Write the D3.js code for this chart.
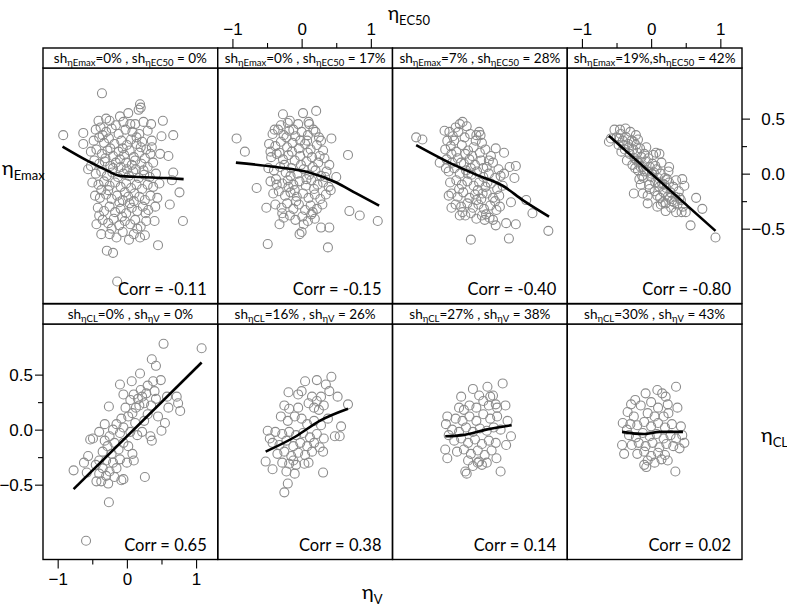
<!DOCTYPE html>
<html><head><meta charset="utf-8">
<script src="https://cdn.jsdelivr.net/npm/d3@7"></script>
<style>body{margin:0;background:#fff}svg{display:block}</style>
</head><body>
<svg id="chart" width="787" height="608"></svg>
<script>
// ---------- data ----------
const xMajorTicks = [-1, 0, 1];
const xMinorTicks = [-0.5, 0.5];
const yMajorTicks = [-0.5, 0, 0.5];
const yMinorTicks = [-0.25, 0.25];

const shEmax = ["0%", "0%", "7%", "19%"];
const shEC50 = ["0%", "17%", "28%", "42%"];
const shSep  = [" , ", " , ", " , ", ","];
const shCL   = ["0%", "16%", "27%", "30%"];
const shV    = ["0%", "26%", "38%", "43%"];
const corrTop    = ["-0.11", "-0.15", "-0.40", "-0.80"];
const corrBottom = ["0.65", "0.38", "0.14", "0.02"];

// top row: x = eta EC50, y = eta Emax
const ptsT1 = [[-0.36,0.73],[0.19,0.63],[0.20,0.60],[0.17,0.58],[-0.92,0.35],[-0.63,0.37],[0.52,0.48],[0.67,0.35],[0.50,0.34],[-0.41,0.48],[-0.25,0.48],[-0.05,0.47],[0.12,0.45],[0.24,0.47],[-0.63,0.27],[0.48,0.18],[0.60,0.16],[-0.56,0.04],[0.67,0.01],[0.65,-0.06],[0.76,-0.17],[0.62,-0.28],[0.81,-0.43],[-0.37,-0.15],[-0.44,-0.46],[-0.37,-0.55],[-0.29,-0.70],[-0.20,-0.72],[0.19,-0.58],[0.26,-0.56],[0.45,-0.65],[0.40,-0.43],[0.28,-0.43],[-0.14,-0.98],
[-0.45,0.40],[-0.38,0.42],[-0.30,0.38],[-0.22,0.41],[-0.12,0.36],[-0.02,0.40],[0.08,0.38],[0.18,0.36],[0.30,0.39],[0.36,0.30],
[-0.48,0.30],[-0.40,0.33],[-0.33,0.28],[-0.26,0.32],[-0.18,0.27],[-0.08,0.30],[0.00,0.26],[0.06,0.31],[0.14,0.27],[0.22,0.29],[0.28,0.22],
[-0.52,0.20],[-0.44,0.22],[-0.36,0.18],[-0.28,0.21],[-0.20,0.16],[-0.12,0.20],[-0.04,0.17],[0.04,0.21],[0.10,0.15],[0.18,0.19],[0.26,0.14],[0.34,0.18],
[-0.47,0.12],[-0.40,0.09],[-0.32,0.11],[-0.24,0.07],[-0.16,0.10],[-0.09,0.06],[-0.01,0.10],[0.07,0.08],[0.13,0.04],[0.21,0.09],[0.30,0.06],[0.38,0.10],
[-0.45,0.00],[-0.37,0.02],[-0.29,-0.02],[-0.21,0.01],[-0.13,-0.03],[-0.05,0.00],[0.03,-0.02],[0.09,0.02],[0.17,-0.04],[0.25,-0.01],[0.33,-0.03],[0.42,0.00],
[-0.50,-0.08],[-0.41,-0.10],[-0.33,-0.07],[-0.25,-0.11],[-0.17,-0.08],[-0.09,-0.12],[-0.01,-0.09],[0.06,-0.13],[0.14,-0.10],[0.22,-0.14],[0.30,-0.10],[0.38,-0.12],[0.47,-0.09],
[-0.46,-0.20],[-0.39,-0.22],[-0.30,-0.19],[-0.22,-0.23],[-0.14,-0.20],[-0.06,-0.24],[0.02,-0.21],[0.10,-0.25],[0.18,-0.21],[0.26,-0.24],[0.34,-0.20],[0.44,-0.22],
[-0.42,-0.31],[-0.33,-0.34],[-0.25,-0.30],[-0.17,-0.35],[-0.09,-0.32],[-0.01,-0.36],[0.07,-0.31],[0.15,-0.34],[0.23,-0.30],[0.31,-0.33],
[-0.35,-0.42],[-0.27,-0.45],[-0.19,-0.41],[-0.11,-0.47],[-0.03,-0.43],[0.05,-0.46],[0.12,-0.42],[0.20,-0.48],
[-0.25,-0.55],[-0.15,-0.58],[-0.06,-0.53],[0.03,-0.60],[0.10,-0.55],
[-0.10,0.52],[0.02,0.55],[-0.30,0.50],[0.35,0.45],
[-0.20,0.05],[-0.10,0.13],[0.00,0.04],[0.12,0.12],[-0.27,-0.15],[-0.03,-0.17],[0.11,-0.18],[-0.35,0.35],[0.14,0.33],[-0.16,0.44],[0.27,-0.36],[-0.07,-0.39],[0.36,0.24],[-0.40,-0.38],[0.41,-0.30],[-0.52,0.07],[0.05,0.45],[-0.22,-0.50],[0.15,-0.50],[-0.31,0.14],[0.24,0.03],[-0.11,-0.26],[0.04,-0.27],[0.20,0.24],[-0.24,0.23],[-0.06,0.23]];
const ptsT2 = [[-0.94,0.32],[-0.82,0.20],[0.21,0.57],[0.02,0.55],[-0.27,0.54],[-0.17,0.48],[-0.39,0.40],[0.11,0.45],[0.43,0.32],[0.67,0.17],[-0.65,-0.13],[-0.51,-0.31],[-0.32,-0.46],[-0.03,-0.55],[0.00,-0.53],[-0.49,-0.64],[0.38,-0.67],[0.28,-0.49],[0.40,-0.49],[0.69,-0.34],[0.84,-0.38],[1.10,-0.43],[0.16,-0.35],[0.50,-0.03],
[-0.42,0.36],[-0.34,0.40],[-0.26,0.35],[-0.18,0.39],[-0.09,0.34],[0.00,0.38],[0.09,0.35],[0.17,0.40],[0.25,0.33],
[-0.47,0.27],[-0.38,0.25],[-0.30,0.29],[-0.21,0.24],[-0.13,0.28],[-0.04,0.23],[0.05,0.27],[0.13,0.22],[0.22,0.26],[0.31,0.21],
[-0.44,0.15],[-0.36,0.18],[-0.27,0.13],[-0.19,0.17],[-0.10,0.12],[-0.02,0.16],[0.07,0.11],[0.15,0.15],[0.24,0.10],[0.33,0.14],[0.40,0.08],
[-0.48,0.05],[-0.40,0.03],[-0.31,0.06],[-0.23,0.01],[-0.15,0.05],[-0.06,0.00],[0.03,0.04],[0.11,-0.01],[0.20,0.03],[0.28,-0.02],[0.36,0.02],
[-0.45,-0.07],[-0.37,-0.05],[-0.28,-0.09],[-0.20,-0.06],[-0.12,-0.10],[-0.03,-0.07],[0.06,-0.11],[0.14,-0.06],[0.23,-0.10],[0.31,-0.08],[0.39,-0.12],
[-0.41,-0.18],[-0.33,-0.16],[-0.24,-0.20],[-0.16,-0.17],[-0.07,-0.21],[0.02,-0.18],[0.10,-0.22],[0.19,-0.19],[0.27,-0.23],[0.35,-0.19],
[-0.38,-0.28],[-0.29,-0.31],[-0.21,-0.27],[-0.12,-0.32],[-0.04,-0.28],[0.05,-0.33],[0.13,-0.29],[0.22,-0.32],[0.30,-0.28],
[-0.26,-0.40],[-0.17,-0.38],[-0.09,-0.42],[0.01,-0.39],[0.09,-0.43],[0.19,-0.41],
[-0.20,0.46],[-0.05,0.45],[0.10,0.47],[-0.30,0.44],
[-0.02,0.30],[-0.14,0.20],[0.09,0.19],[-0.25,0.08],[0.18,-0.14],[-0.10,-0.15],
[-0.16,-0.02],[0.08,0.30],[-0.32,0.19],[0.26,0.16],[-0.08,-0.25],[0.14,-0.37],[-0.36,-0.10],[0.34,-0.03],[-0.22,0.33],[0.03,-0.46],[-0.45,0.20],[0.42,-0.15],[-0.28,-0.36],[0.20,0.38],[-0.12,0.40],[0.28,0.30],[-0.01,0.08],[0.16,0.06],[-0.19,-0.12],[0.07,-0.05]];
const ptsT3 = [[-0.87,0.33],[-0.78,0.31],[-0.20,0.47],[-0.24,0.45],[-0.46,0.39],[-0.39,0.38],[0.04,0.38],[0.00,0.35],[0.28,0.23],[0.40,0.19],[0.57,0.07],[0.48,0.06],[0.55,-0.04],[0.72,-0.24],[0.81,-0.36],[1.04,-0.52],[0.28,-0.47],[0.43,-0.45],[0.57,-0.46],[-0.08,-0.60],[0.47,-0.59],[-0.36,-0.31],[-0.24,-0.38],[-0.53,0.10],[0.14,-0.37],[0.19,-0.40],[0.50,-0.26],
[-0.42,0.30],[-0.34,0.34],[-0.26,0.38],[-0.17,0.33],[-0.09,0.36],[-0.01,0.30],[0.08,0.28],
[-0.45,0.22],[-0.37,0.25],[-0.29,0.20],[-0.21,0.26],[-0.12,0.21],[-0.04,0.24],[0.05,0.19],[0.13,0.22],[0.21,0.16],
[-0.43,0.13],[-0.35,0.10],[-0.27,0.14],[-0.18,0.09],[-0.10,0.13],[-0.02,0.08],[0.07,0.12],[0.15,0.06],[0.24,0.10],[0.32,0.04],
[-0.40,0.02],[-0.32,0.05],[-0.24,0.00],[-0.15,0.03],[-0.07,-0.01],[0.01,0.02],[0.10,-0.03],[0.18,0.00],[0.27,-0.04],[0.35,-0.02],
[-0.38,-0.08],[-0.29,-0.06],[-0.21,-0.10],[-0.13,-0.07],[-0.04,-0.11],[0.04,-0.08],[0.13,-0.12],[0.21,-0.09],[0.30,-0.14],[0.38,-0.11],
[-0.36,-0.18],[-0.27,-0.21],[-0.19,-0.17],[-0.10,-0.22],[-0.02,-0.19],[0.07,-0.23],[0.15,-0.18],[0.24,-0.22],[0.33,-0.20],
[-0.30,-0.28],[-0.22,-0.30],[-0.13,-0.27],[-0.05,-0.31],[0.03,-0.28],[0.11,-0.32],[0.20,-0.29],[0.29,-0.33],
[-0.16,-0.38],[-0.08,-0.36],[0.00,-0.41],[0.08,-0.38],[0.24,-0.42],
[-0.30,0.42],[-0.14,0.43],[-0.22,0.10],[0.02,-0.15],[-0.12,0.00],[0.10,0.05],
[-0.32,0.30],[-0.06,0.16],[0.18,0.12],[-0.25,-0.14],[0.09,-0.18],[-0.16,0.18],[0.27,-0.25],[-0.40,-0.20],[0.34,-0.30],[0.00,-0.24],[-0.36,0.18],[0.16,-0.08],[-0.08,0.05],[0.06,0.35],[-0.20,-0.35],[0.12,-0.42],[0.40,0.00],[-0.44,0.05]];
const ptsT4 = [[-0.61,0.29],[-0.58,0.32],[-0.53,0.40],[-0.37,0.41],[-0.22,0.35],[-0.25,-0.18],[-0.12,-0.18],[-0.05,-0.27],[0.09,-0.30],[0.21,-0.34],[0.36,-0.35],[0.50,-0.35],[0.65,-0.22],[0.74,-0.32],[0.57,-0.47],[0.93,-0.58],[0.45,-0.05],[0.48,-0.11],[0.26,0.06],[0.12,0.18],[0.07,0.19],
[-0.50,0.33],[-0.47,0.26],[-0.44,0.36],[-0.41,0.30],[-0.38,0.22],[-0.36,0.33],[-0.33,0.27],[-0.31,0.18],[-0.28,0.30],[-0.26,0.22],[-0.24,0.14],[-0.22,0.26],[-0.20,0.19],[-0.18,0.10],[-0.16,0.23],[-0.14,0.15],[-0.12,0.06],[-0.10,0.18],[-0.08,0.11],[-0.06,0.02],[-0.04,0.14],[-0.02,0.06],[0.00,-0.03],[0.02,0.09],[0.04,0.01],[0.06,-0.08],[0.08,0.04],[0.10,-0.04],[0.12,-0.12],[0.14,0.00],[0.16,-0.09],[0.18,-0.17],[0.20,-0.04],[0.22,-0.13],[0.24,-0.21],[0.26,-0.08],[0.28,-0.17],[0.30,-0.25],[0.32,-0.12],[0.35,-0.21],[0.38,-0.28],[0.40,-0.16],[0.43,-0.24],[0.46,-0.30],
[-0.43,0.20],[-0.35,0.12],[-0.27,0.08],[-0.19,0.03],[-0.11,-0.04],[-0.03,-0.10],[0.05,-0.16],[0.13,-0.22],[0.21,-0.27],[0.29,-0.31],
[-0.45,0.40],[-0.30,0.38],[-0.19,0.31],[-0.07,0.24],[0.03,0.17],[0.15,0.10],[0.25,0.02],[0.36,-0.06],
[-0.23,0.05],[-0.13,-0.02],[-0.02,-0.14],[0.09,-0.20],[0.17,-0.26],[-0.15,-0.10],[-0.05,-0.20],
[-0.40,0.26],[-0.32,0.24],[-0.25,0.29],[-0.15,0.06],[-0.09,0.02],[0.01,0.00],[0.11,-0.09],[0.19,-0.10],[0.27,-0.22],[0.33,-0.26],[0.41,-0.22],[-0.21,0.12],[0.06,0.07],[-0.46,0.32],[0.23,-0.05],[-0.17,-0.05],[0.14,-0.28],[0.44,-0.35]];

// bottom row: x = eta V, y = eta CL
const ptsB1 = [[0.53,0.78],[1.08,0.74],[0.36,0.64],[0.42,0.58],[-0.10,0.41],[0.07,0.44],[0.19,0.51],[0.38,0.44],[0.49,0.45],[0.72,0.30],[0.74,0.24],[0.77,0.17],[-0.26,0.21],[0.55,0.06],[0.50,-0.01],[-0.49,-0.08],[-0.53,-0.09],[-0.56,-0.24],[-0.77,-0.37],[-0.58,-0.39],[-0.44,-0.47],[-0.37,-0.47],[-0.27,-0.49],[-0.08,-0.46],[-0.05,-0.45],[0.26,-0.43],[-0.26,-0.66],[0.34,-0.06],[-0.59,-1.01],
[0.10,0.32],[0.16,0.28],[0.22,0.30],[0.18,0.22],[0.25,0.24],[0.13,0.20],[0.28,0.33],[0.05,0.27],[0.20,0.36],
[-0.02,0.20],[0.02,0.12],[0.08,0.15],[-0.08,0.10],[0.12,0.06],[0.30,0.14],[0.35,0.22],[0.42,0.28],[0.45,0.12],
[-0.15,0.05],[-0.20,0.00],[-0.10,-0.03],[-0.25,-0.06],[-0.05,0.02],[0.05,-0.02],[0.15,-0.05],[0.22,-0.02],
[-0.32,-0.10],[-0.28,-0.15],[-0.18,-0.12],[-0.12,-0.18],[-0.22,-0.22],[-0.35,-0.20],[-0.05,-0.12],[0.02,-0.15],[0.08,-0.22],
[-0.40,-0.28],[-0.30,-0.28],[-0.20,-0.30],[-0.10,-0.27],[-0.15,-0.35],[-0.25,-0.38],[-0.35,-0.35],[-0.45,-0.32],[0.00,-0.30],[0.10,-0.28],
[-0.30,-0.42],[-0.18,-0.43],[-0.40,-0.40],
[0.30,0.40],[0.40,0.35],[0.58,0.30],[0.60,0.20],[-0.32,0.05],[-0.40,-0.02],[0.25,0.08],[-0.62,-0.30],[-0.05,0.32],[0.36,-0.10]];
const ptsB2 = [[0.43,0.48],[0.05,0.44],[0.22,0.45],[0.35,0.41],[-0.19,0.34],[-0.05,0.32],[0.52,0.30],[0.67,0.23],[-0.18,0.19],[0.57,0.03],[0.48,-0.06],[0.55,-0.06],[-0.49,-0.01],[-0.46,-0.08],[-0.52,-0.29],[-0.42,-0.36],[0.31,-0.20],[0.31,-0.39],[-0.20,-0.49],[-0.25,-0.57],[-0.18,-0.31],[-0.08,-0.32],[0.04,-0.31],
[0.15,0.30],[0.22,0.26],[0.28,0.30],[0.18,0.20],[0.25,0.18],[0.10,0.24],[0.32,0.22],
[-0.30,0.12],[-0.20,0.08],[-0.10,0.12],[0.00,0.10],[0.08,0.05],[0.18,0.08],[0.28,0.04],[0.38,0.10],
[-0.38,-0.02],[-0.28,-0.04],[-0.18,-0.02],[-0.08,-0.05],[0.02,-0.03],[0.12,-0.07],[0.22,-0.04],[0.32,-0.08],
[-0.42,-0.12],[-0.32,-0.14],[-0.22,-0.10],[-0.12,-0.15],[-0.02,-0.12],[0.08,-0.15],[0.18,-0.12],[0.26,-0.16],
[-0.35,-0.22],[-0.25,-0.20],[-0.15,-0.24],[-0.05,-0.21],[0.05,-0.23],[0.15,-0.20],
[-0.28,-0.30],[-0.12,-0.28],[0.10,-0.30],[-0.22,-0.38],[-0.10,-0.40],
[-0.05,0.20],[0.00,0.35],[-0.25,0.22],[0.40,0.35]];
const ptsB3 = [[0.38,0.42],[0.16,0.39],[-0.05,0.37],[0.04,0.31],[-0.22,0.30],[0.24,0.31],[0.28,0.23],[0.42,0.22],[-0.42,0.12],[-0.44,0.05],[0.45,0.08],[0.50,-0.06],[0.43,-0.14],[-0.45,-0.18],[-0.42,-0.26],[0.29,-0.26],[-0.16,-0.38],[-0.14,-0.40],[0.35,-0.38],[0.04,-0.29],[0.02,-0.30],
[0.10,0.26],[0.18,0.22],[-0.10,0.22],[0.00,0.20],[0.20,0.30],[-0.18,0.18],
[-0.30,0.10],[-0.20,0.08],[-0.10,0.12],[0.00,0.08],[0.10,0.14],[0.20,0.10],[0.30,0.12],
[-0.35,0.00],[-0.25,-0.02],[-0.15,0.02],[-0.05,-0.02],[0.05,0.01],[0.15,-0.01],[0.25,0.02],[0.35,0.00],
[-0.32,-0.10],[-0.22,-0.08],[-0.12,-0.12],[-0.02,-0.09],[0.08,-0.13],[0.18,-0.10],[0.28,-0.12],
[-0.28,-0.20],[-0.18,-0.18],[-0.08,-0.22],[0.02,-0.19],[0.12,-0.23],[0.22,-0.19],
[-0.12,-0.28],[0.08,-0.32],[-0.05,-0.33],[0.15,-0.30],
[-0.25,0.20],[0.30,0.20],[-0.40,-0.05]];
const ptsB4 = [[0.36,0.39],[-0.08,0.33],[0.09,0.36],[0.16,0.33],[0.21,0.30],[-0.23,0.27],[-0.29,0.23],[-0.34,0.16],[0.38,0.20],[0.24,0.23],[-0.41,0.06],[0.43,0.03],[0.45,-0.05],[0.48,-0.12],[0.41,-0.17],[-0.42,-0.14],[-0.39,-0.22],[0.24,-0.28],[-0.10,-0.32],[-0.07,-0.34],[0.35,-0.38],
[-0.15,0.22],[0.00,0.25],[0.10,0.20],[-0.05,0.15],[0.18,0.12],[-0.25,0.12],
[-0.30,0.05],[-0.20,0.04],[-0.10,0.07],[0.00,0.03],[0.10,0.06],[0.20,0.02],[0.30,0.05],
[-0.32,-0.05],[-0.22,-0.07],[-0.12,-0.03],[-0.02,-0.06],[0.08,-0.04],[0.18,-0.08],[0.28,-0.05],[0.36,-0.08],
[-0.28,-0.14],[-0.18,-0.12],[-0.08,-0.15],[0.02,-0.12],[0.12,-0.16],[0.22,-0.13],[0.32,-0.15],
[-0.20,-0.22],[-0.10,-0.20],[0.00,-0.24],[0.10,-0.21],[0.20,-0.23],
[-0.05,-0.28],[0.05,-0.30],[0.15,-0.27],
[0.25,0.15],[-0.35,0.00],[0.05,0.12]];

// smoother lines
const lineT1 = [[-0.93,0.245],[-0.58,0.12],[-0.29,0.03],[-0.10,-0.02],[0.19,-0.03],[0.57,-0.04],[0.82,-0.05]];
const lineT2 = [[-0.95,0.10],[-0.37,0.06],[0.11,0.01],[0.50,-0.08],[0.79,-0.18],[1.12,-0.29]];
const lineT3 = [[-0.87,0.26],[-0.29,0.07],[0.04,-0.02],[0.38,-0.11],[0.67,-0.24],[1.05,-0.39]];
const lineT4 = [[-0.61,0.345],[0.93,-0.52]];
const lineB1 = [[-0.77,-0.54],[1.08,0.61]];
const lineB2 = [[-0.52,-0.20],[-0.08,-0.06],[0.26,0.08],[0.67,0.19]];
const lineB3 = [[-0.45,-0.06],[-0.20,-0.05],[0.14,0.00],[0.51,0.04]];
const lineB4 = [[-0.42,-0.02],[-0.10,-0.04],[0.12,-0.02],[0.46,-0.02]];

// ---------- layout ----------
const svg = d3.select("#chart");
const left = 43, right = 742, nCol = 4;
const pw = (right - left) / nCol;
const stripH = 20;
const rowTop = [48, 304];      // strip tops
const ph = 235.5;
const colScale = d3.scaleBand().domain(d3.range(nCol)).range([left, right]).paddingInner(0);
const x = d3.scaleLinear().domain([-1.212, 1.313]).range([0, pw]);
const y = d3.scaleLinear().domain([-1.18, 0.96]).range([ph, 0]);

const sansLabel = "Lato, 'Open Sans', 'Noto Sans', sans-serif";
const sansTick = "'Liberation Sans', Arial, sans-serif";
const ptColor = "#8c8c8c";

function richText(g, segs, subSize, shift) {
  segs.forEach(s => {
    const ts = g.append("tspan").text(s.t);
    if (s.sub) ts.attr("font-size", subSize).attr("dy", shift);
    else if (s.after) ts.attr("dy", -shift);
  });
}

const rows = [
  {pts:[ptsT1,ptsT2,ptsT3,ptsT4], lines:[lineT1,lineT2,lineT3,lineT4], corr:corrTop,
   strip:i => [{t:"sh"},{t:"\u03B7Emax",sub:true},{t:"="+shEmax[i]+shSep[i]+"sh",after:true},{t:"\u03B7EC50",sub:true},{t:" = "+shEC50[i],after:true}]},
  {pts:[ptsB1,ptsB2,ptsB3,ptsB4], lines:[lineB1,lineB2,lineB3,lineB4], corr:corrBottom,
   strip:i => [{t:"sh"},{t:"\u03B7CL",sub:true},{t:"="+shCL[i]+" , sh",after:true},{t:"\u03B7V",sub:true},{t:" = "+shV[i],after:true}]}
];

const lineGen = d3.line().x(d => x(d[0])).y(d => y(d[1])).curve(d3.curveMonotoneX);

rows.forEach((row, r) => {
  for (let c = 0; c < nCol; c++) {
    const gx = colScale(c), sy = rowTop[r], py = sy + stripH;
    const g = svg.append("g").attr("transform", `translate(${gx},${py})`);
    g.selectAll("circle").data(row.pts[c]).join("circle")
      .attr("cx", d => x(d[0])).attr("cy", d => y(d[1])).attr("r", 4.5)
      .attr("fill", "none").attr("stroke", ptColor).attr("stroke-width", 1.1);
    g.append("path").attr("d", lineGen(row.lines[c]))
      .attr("fill", "none").attr("stroke", "#000").attr("stroke-width", 2.6);
    g.append("text").attr("x", pw - 11).attr("y", ph - 9)
      .attr("text-anchor", "end").attr("font-family", sansLabel).attr("font-size", 16.5)
      .attr("fill", "#000").text("Corr = " + row.corr[c]);
    g.append("rect").attr("x", 0).attr("y", 0).attr("width", pw).attr("height", ph)
      .attr("fill", "none").attr("stroke", "#000").attr("stroke-width", 1.4);
    const s = svg.append("g").attr("transform", `translate(${gx},${sy})`);
    s.append("rect").attr("width", pw).attr("height", stripH)
      .attr("fill", "#fff").attr("stroke", "#000").attr("stroke-width", 1.4);
    const t = s.append("text").attr("x", pw / 2).attr("y", 14.5).attr("text-anchor", "middle")
      .attr("font-family", sansLabel).attr("font-size", 13.5).attr("fill", "#000");
    richText(t, row.strip(c), 9.5, 3.5);
  }
});

// ---------- axes ----------
function styleAxis(g) {
  g.selectAll(".domain").remove();
  g.selectAll("line").attr("stroke", "#000").attr("stroke-width", 1.1);
  g.selectAll("text").attr("font-family", sansTick).attr("font-size", 17).attr("fill", "#000");
}
function xAxisAt(c, yPos, dir) {
  const g = svg.append("g").attr("transform", `translate(${colScale(c)},${yPos})`);
  const mk = () => (dir === "top" ? d3.axisTop(x) : d3.axisBottom(x));
  g.call(mk().tickValues(xMajorTicks).tickFormat(d3.format("d")).tickSize(9).tickPadding(4));
  g.append("g").call(mk().tickValues(xMinorTicks).tickFormat("").tickSize(5));
  styleAxis(g);
}
xAxisAt(1, rowTop[0], "top");
xAxisAt(3, rowTop[0], "top");
xAxisAt(0, rowTop[1] + stripH + ph, "bottom");

function yAxisAt(xPos, yTop, dir) {
  const g = svg.append("g").attr("transform", `translate(${xPos},${yTop})`);
  const mk = () => (dir === "left" ? d3.axisLeft(y) : d3.axisRight(y));
  g.call(mk().tickValues(yMajorTicks).tickFormat(d3.format(".1f")).tickSize(8).tickPadding(2));
  g.append("g").call(mk().tickValues(yMinorTicks).tickFormat("").tickSize(5));
  styleAxis(g);
  if (dir === "right") g.selectAll("text").attr("text-anchor", "end").attr("x", 787 - xPos - 2);
}
yAxisAt(left, rowTop[1] + stripH, "left");
yAxisAt(right, rowTop[0] + stripH, "right");

// ---------- axis titles ----------
function etaLabel(xp, yp, sub, size) {
  const t = svg.append("text").attr("x", xp).attr("y", yp)
    .attr("font-family", sansLabel).attr("font-size", size).attr("fill", "#000");
  t.append("tspan").text("\u03B7");
  t.append("tspan").text(sub).attr("font-size", 13).attr("dy", 5);
}
etaLabel(388, 20, "EC50", 19);
etaLabel(362, 599, "V", 20);
etaLabel(2, 175, "Emax", 20);
etaLabel(761, 442, "CL", 20);
</script>
</body></html>
